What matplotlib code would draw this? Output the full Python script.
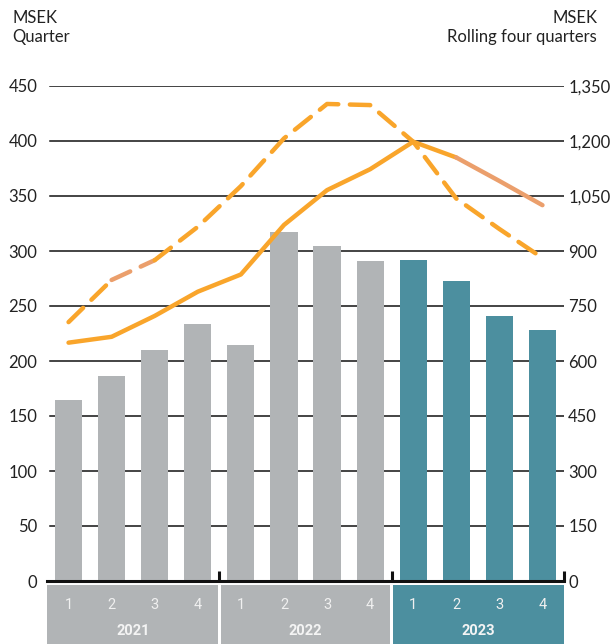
import matplotlib
matplotlib.use("Agg")
import matplotlib.pyplot as plt
from matplotlib.patches import Rectangle

quarters = ["1", "2", "3", "4"] * 3
years = ["2021", "2022", "2023"]
bar_values = [165, 186, 210, 234, 215, 317, 305, 291, 292, 273, 241, 228]
rolling_solid = [650, 666, 723, 789, 836, 971, 1066, 1123, 1198, 1155, 1091, 1025]
rolling_dashed = [706, 821, 875, 966, 1077, 1207, 1301, 1298, 1198, 1043, 960, 881]
left_ticks = [0, 50, 100, 150, 200, 250, 300, 350, 400, 450]
right_ticks = [0, 150, 300, 450, 600, 750, 900, 1050, 1200, 1350]

GRAY = "#B1B4B6"
TEAL = "#4C8F9F"
ORANGE = "#F9A52B"
SALMON = "#EB9F6C"
TXT = "#222222"

plt.rcParams['font.family'] = ['Lato', 'DejaVu Sans']

W, H = 616, 644
fig = plt.figure(figsize=(W / 100, H / 100), dpi=100)
x0, x1 = 47, 564
ytop, ybot = 86, 581
ax = fig.add_axes([x0 / W, (H - ybot) / H, (x1 - x0) / W, (ybot - ytop) / H])
ax.set_xlim(-0.5, 11.5)
ax.set_ylim(0, 450)

xs = list(range(12))
colors = [GRAY] * 8 + [TEAL] * 4
ax.bar(xs, bar_values, width=0.63, color=colors, zorder=2)
for t in left_ticks[1:]:
    ax.axhline(t, xmin=3 / (x1 - x0), xmax=1, color="#111111", lw=1.1, zorder=1)

ax2 = ax.twinx()
ax2.set_ylim(0, 1350)
ls = dict(lw=3.2, solid_capstyle='round', dash_capstyle='round', zorder=3)
ax2.plot(xs[:10], rolling_solid[:10], color=ORANGE, **ls)
ax2.plot(xs[9:], rolling_solid[9:], color=SALMON, **ls)
dash = (4.6, 2.6)
ax2.plot(xs[:2], rolling_dashed[:2], color=ORANGE, dashes=dash, **ls)
ax2.plot(xs[1:3], rolling_dashed[1:3], color=SALMON, dashes=dash, **ls)
ax2.plot(xs[2:], rolling_dashed[2:], color=ORANGE, dashes=dash, **ls)

for a in (ax, ax2):
    for s in a.spines.values():
        s.set_visible(False)
ax.spines['bottom'].set_visible(True)
ax.spines['bottom'].set_linewidth(2.2)
ax.spines['bottom'].set_color("#111111")
ax.set_xticks([])
ax.set_yticks(left_ticks)
ax.set_yticklabels([str(t) for t in left_ticks])
ax.tick_params(axis='y', length=0, pad=7, labelsize=12, labelcolor=TXT)
ax2.set_yticks(right_ticks)
ax2.set_yticklabels([f"{t:,}" for t in right_ticks])
ax2.tick_params(axis='y', length=0, pad=3, labelsize=12, labelcolor=TXT)

# year separator ticks
for xb in [3.5, 7.5, 11.5]:
    ax.plot([xb, xb], [0, 9], color="#111111", lw=2.2, clip_on=False, zorder=4,
            solid_capstyle='butt')

# category boxes
axc = fig.add_axes([x0 / W, 0, (x1 - x0) / W, (H - 585) / H])
axc.set_xlim(-0.5, 11.5)
axc.set_ylim(0, 1)
axc.axis('off')
box_colors = [GRAY, GRAY, TEAL]
for i, yr in enumerate(years):
    left = -0.5 + 4 * i + (0.03 if i > 0 else 0)
    right = 3.5 + 4 * i - (0.03 if i < 2 else 0)
    axc.add_patch(Rectangle((left, 0), right - left, 1, color=box_colors[i], lw=0))
    axc.text(1.5 + 4 * i, 0.22, yr, ha='center', va='center', color="#F4F4F4",
             fontsize=10.5, fontweight='bold', family=['Roboto', 'DejaVu Sans'])
for i, q in enumerate(quarters):
    axc.text(i, 0.66, q, ha='center', va='center', color="#F0F0F0", fontsize=10.5,
             family=['Roboto', 'DejaVu Sans'])

fig.text(12 / W, 1 - 10 / H, "MSEK\nQuarter", ha='left', va='top', fontsize=12,
         color=TXT, linespacing=1.2)
fig.text(597 / W, 1 - 10 / H, "MSEK\nRolling four quarters", ha='right', va='top',
         fontsize=12, color=TXT, linespacing=1.2, multialignment='right')

fig.savefig("out.png", dpi=100)
